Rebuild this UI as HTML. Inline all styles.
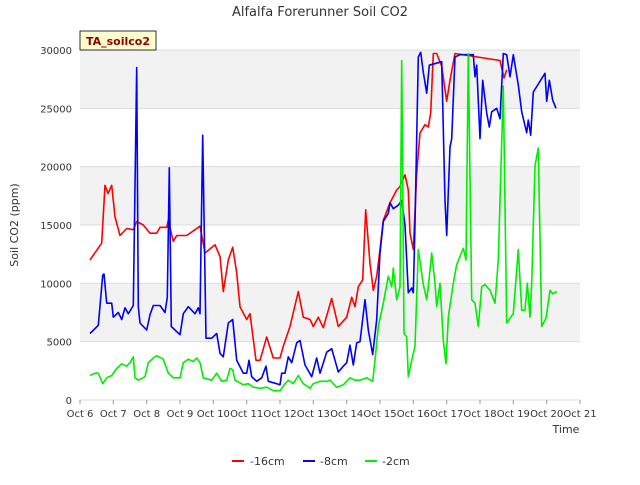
<!DOCTYPE html>
<html><head><meta charset="utf-8"><style>
body{margin:0;background:#fff;font-family:"Liberation Sans","DejaVu Sans",sans-serif}
svg text{font-family:"DejaVu Sans","Liberation Sans",sans-serif}
</style></head><body>
<svg id="chart" width="640" height="480" xmlns="http://www.w3.org/2000/svg">
<text x="320" y="16" text-anchor="middle" font-size="13" fill="#333">Alfalfa Forerunner Soil CO2</text>
<g id="bands"></g><g id="grid"></g><g id="series"></g><g id="axes"></g>
<rect x="80" y="31" width="76" height="19" fill="#ffffcc" stroke="#000" stroke-width="0.8"/>
<text x="118" y="45" text-anchor="middle" font-size="11" font-weight="bold" fill="#8b0000">TA_soilco2</text>
<text x="566" y="433" text-anchor="middle" font-size="11" fill="#333">Time</text>
<text x="18" y="225" text-anchor="middle" font-size="11" fill="#333" transform="rotate(-90 18 225)">Soil CO2 (ppm)</text>
<g>
<line x1="232" y1="461" x2="244" y2="461" stroke="#ff0000" stroke-width="2"/><text x="250" y="465" font-size="11" fill="#333">-16cm</text>
<line x1="303" y1="461" x2="315" y2="461" stroke="#0000ff" stroke-width="2"/><text x="320" y="465" font-size="11" fill="#333">-8cm</text>
<line x1="365" y1="461" x2="377" y2="461" stroke="#00ee00" stroke-width="2"/><text x="382" y="465" font-size="11" fill="#333">-2cm</text>
</g>
</svg>
<script>
const xTickLabels=["Oct 6","Oct 7","Oct 8","Oct 9","Oct 10","Oct 11","Oct 12","Oct 13","Oct 14","Oct 15","Oct 16","Oct 17","Oct 18","Oct 19","Oct 20","Oct 21"];
const yTicks=[0,5000,10000,15000,20000,25000,30000];
const redT=[6.3,6.65,6.75,6.84,6.95,7.05,7.2,7.4,7.6,7.7,7.9,8.1,8.3,8.4,8.6,8.65,8.8,8.9,9.2,9.45,9.6,9.75,10.05,10.2,10.3,10.45,10.58,10.7,10.8,11.0,11.1,11.28,11.4,11.6,11.8,12.0,12.1,12.3,12.55,12.7,12.9,13.0,13.15,13.3,13.55,13.75,14.0,14.15,14.25,14.35,14.48,14.57,14.7,14.8,14.9,15.0,15.1,15.3,15.5,15.6,15.75,15.85,15.9,16.0,16.1,16.2,16.35,16.45,16.52,16.6,16.7,16.85,17.0,17.1,17.25,18.6,18.72,18.8];
const redV=[12000,13450,18400,17700,18400,15700,14100,14700,14600,15300,15000,14300,14300,14800,14800,15400,13600,14100,14100,14600,14900,12600,13300,12300,9300,12000,13100,10900,8000,6900,7400,3400,3400,5400,3600,3600,4600,6300,9300,7100,6900,6300,7100,6200,8700,6300,7100,8800,8000,9700,10300,16300,11700,9400,10600,12900,15400,16900,18000,18300,19300,18000,14300,12900,19400,22900,23600,23400,24600,29700,29700,28600,25600,27400,29700,29100,27600,28300];
const blueT=[6.3,6.55,6.68,6.72,6.8,6.95,7.0,7.15,7.25,7.35,7.45,7.6,7.7,7.75,7.8,8.0,8.1,8.2,8.4,8.55,8.62,8.68,8.74,9.0,9.1,9.25,9.45,9.55,9.6,9.68,9.78,9.95,10.1,10.2,10.3,10.45,10.58,10.7,10.9,11.0,11.07,11.15,11.3,11.45,11.58,11.65,11.9,12.0,12.05,12.15,12.25,12.35,12.5,12.6,12.75,12.95,13.1,13.2,13.4,13.55,13.75,13.9,14.0,14.1,14.2,14.3,14.4,14.55,14.65,14.78,14.9,15.0,15.1,15.25,15.3,15.4,15.55,15.65,15.75,15.85,15.95,16.0,16.05,16.15,16.22,16.3,16.4,16.48,16.85,16.95,17.0,17.1,17.15,17.25,17.4,17.8,17.85,17.9,18.0,18.08,18.2,18.28,18.35,18.5,18.6,18.7,18.8,18.9,19.0,19.15,19.25,19.4,19.45,19.52,19.6,19.95,20.0,20.08,20.18,20.28];
const blueV=[5700,6400,10700,10800,8300,8300,7100,7500,6900,7900,7400,8100,28500,8000,6600,6000,7300,8100,8100,7500,8800,19900,6300,5600,7400,8000,7400,7900,7400,22700,5300,5300,5700,4000,3700,6600,6900,3400,2300,2300,3400,2000,1600,1900,2900,1600,1400,1300,2300,2300,3700,3200,4900,5100,3000,2000,3600,2300,4100,4400,2400,2900,3200,4700,3000,4900,5000,8600,6000,3900,6900,12600,15300,16000,16900,16400,16700,17100,15000,9200,9600,9200,15100,29400,29800,28100,26300,28700,29000,17100,14100,21700,22400,29400,29600,29600,27700,28700,22400,27400,24600,23400,24700,25000,24100,29700,29600,27700,29600,27000,24700,22900,24000,22700,26400,28000,25600,27400,25700,25000];
const greenT=[6.3,6.45,6.55,6.68,6.8,6.95,7.1,7.25,7.4,7.5,7.6,7.65,7.75,7.95,8.05,8.2,8.3,8.5,8.65,8.8,9.0,9.1,9.25,9.4,9.5,9.6,9.7,9.95,10.1,10.25,10.4,10.5,10.58,10.65,10.9,11.05,11.2,11.4,11.6,11.8,12.0,12.15,12.25,12.4,12.55,12.7,12.9,13.0,13.2,13.4,13.5,13.7,13.9,14.1,14.25,14.4,14.6,14.78,14.85,14.95,15.1,15.25,15.35,15.4,15.5,15.6,15.65,15.72,15.8,15.85,15.95,16.05,16.15,16.3,16.4,16.45,16.55,16.65,16.7,16.8,16.9,16.98,17.05,17.2,17.3,17.5,17.58,17.65,17.75,17.85,17.95,18.05,18.15,18.3,18.45,18.55,18.7,18.8,19.0,19.15,19.25,19.35,19.42,19.5,19.55,19.65,19.75,19.85,19.98,20.1,20.18,20.3];
const greenV=[2100,2300,2300,1400,1900,2100,2700,3100,2900,3200,3700,1900,1700,2000,3200,3600,3800,3500,2300,1900,1900,3200,3500,3300,3600,3200,1900,1700,2300,1600,1700,2700,2600,1700,1300,1400,1100,1000,1100,800,800,1400,1700,1400,2100,1400,1000,1400,1600,1600,1700,1100,1300,1900,1700,1700,1900,1600,3400,6300,8300,10600,9700,11300,8600,9700,29100,5700,5400,2000,3400,4600,12900,9900,8600,9700,12600,10000,8000,10000,5100,3100,7100,10000,11600,13000,12000,29700,8600,8300,6300,9700,9900,9400,8300,12000,26900,6600,7400,12900,7700,7700,10000,7100,10000,20100,21600,6300,7000,9400,9100,9300];
const NS="http://www.w3.org/2000/svg";
const X0=80,X1=580,Y0=400,Y1=50;
function xs(d){return X0+(d-6)*(X1-X0)/15;}
function ys(v){return Y0-v*(Y0-Y1)/30000;}
function mk(tag,attrs,parent){const e=document.createElementNS(NS,tag);for(const k in attrs)e.setAttribute(k,attrs[k]);parent.appendChild(e);return e;}
const bands=document.getElementById('bands'),grid=document.getElementById('grid'),axes=document.getElementById('axes'),series=document.getElementById('series');
for(let i=0;i<yTicks.length-1;i++){
  if(i%2===1){const r=mk('rect',{x:X0,y:ys(yTicks[i+1]),width:X1-X0,height:ys(yTicks[i])-ys(yTicks[i+1]),fill:'#f2f2f2'},bands);
  
  }
}
yTicks.forEach(v=>{
  const l=mk('line',{x1:X0,x2:X1,y1:ys(v),y2:ys(v),stroke:'#dcdcdc','stroke-width':1},grid);
  
  
  const t=mk('text',{x:X0-8,y:ys(v)+4,'text-anchor':'end','font-size':10,fill:'#333'},axes);
  t.textContent=v;
  
  
});
xTickLabels.forEach((s,i)=>{
  const x=xs(6+i);
  mk('line',{x1:x,x2:x,y1:Y0,y2:Y0+4,stroke:'#999'},axes);
  const t=mk('text',{x:x,y:Y0+17,'text-anchor':'middle','font-size':10,fill:'#333'},axes);
  t.textContent=s;
  
  
});
function line(T,V,color,name){
  const d=T.map((t,i)=>(i?'L':'M')+xs(t).toFixed(1)+','+ys(V[i]).toFixed(1)).join('');
  const p=mk('path',{d:d,fill:'none',stroke:color,'stroke-width':1.6,'stroke-linejoin':'round'},series);
  
  
}
line(redT,redV,'#ff0000','series-16cm');
line(blueT,blueV,'#0000ff','series-8cm');
line(greenT,greenV,'#00ee00','series-2cm');
</script>
</body></html>
